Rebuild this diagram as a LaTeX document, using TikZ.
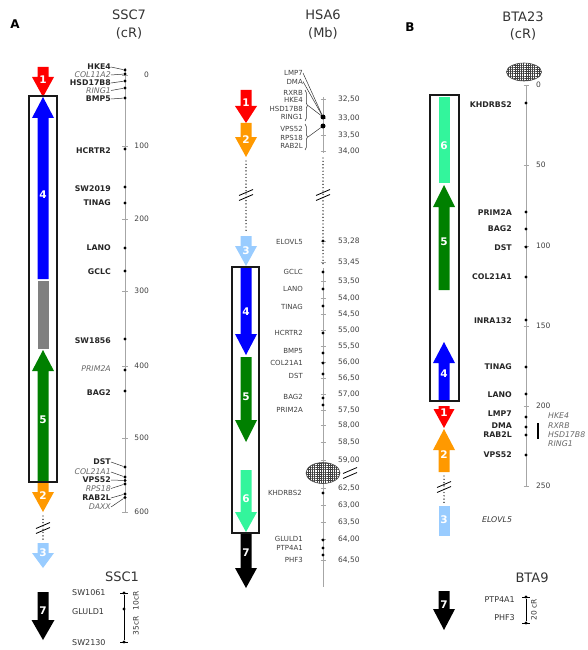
\documentclass[tikz,border=0pt]{standalone}
\usepackage{fontspec}
\setmainfont{DejaVu Sans}
\usetikzlibrary{patterns,patterns.meta,decorations.pathreplacing}
\definecolor{cred}{HTML}{FF0000}
\definecolor{corange}{HTML}{FF9900}
\definecolor{cblue}{HTML}{0000FF}
\definecolor{cgreen}{HTML}{008000}
\definecolor{cmint}{HTML}{33F59C}
\definecolor{clblue}{HTML}{99CCFF}
\definecolor{cgray}{HTML}{808080}
\newcommand\myarrow[6][11]{\fill[#6] ({#2-5.5},#3) -- ({#2+5.5},#3) -- ({#2+5.5},#4) -- ({#2+#1},#4) -- (#2,#5) -- ({#2-#1},#4) -- ({#2-5.5},#4) -- cycle;}
\newcommand\brkmark[2]{\draw[line width=0.8pt] ({#1-7},{#2+0.5}) -- ({#1+7},{#2-5.5}); \draw[line width=0.8pt] ({#1-7},{#2+5.5}) -- ({#1+7},{#2-0.5});}
\newcommand\meshblob[4]{%
  \fill[white] (#1,#2) ellipse [x radius=#3, y radius=#4];
  \fill[pattern={Lines[angle=0,distance=2.2pt,line width=0.45pt]}, pattern color=black!75] (#1,#2) ellipse [x radius=#3, y radius=#4];
  \fill[pattern={Lines[angle=90,distance=2.2pt,line width=0.45pt]}, pattern color=black!75] (#1,#2) ellipse [x radius=#3, y radius=#4];
  \draw[black!70, line width=0.6pt] (#1,#2) ellipse [x radius=#3, y radius=#4];}
\begin{document}
\begin{tikzpicture}[x=1pt,y=-1pt,
  gb/.style={font=\fontsize{7.8}{8}\selectfont\bfseries, text=black!85, anchor=east, inner sep=0pt},
  gi/.style={font=\fontsize{7.8}{8}\selectfont\itshape, text=black!60, anchor=east, inner sep=0pt},
  gm/.style={font=\fontsize{7}{8}\selectfont, text=black!75, anchor=east, inner sep=0pt},
  tk/.style={font=\fontsize{7.5}{8}\selectfont, text=black!75, inner sep=0pt},
  sk/.style={font=\fontsize{8}{8}\selectfont, text=black!80, inner sep=0pt},
  ttl/.style={font=\fontsize{13}{14}\selectfont, text=black!80, inner sep=0pt},
  lett/.style={font=\fontsize{12}{12}\selectfont\bfseries, inner sep=0pt},
  num/.style={font=\fontsize{10.5}{11}\selectfont\bfseries, text=white, inner sep=0pt},
  axisl/.style={draw=black!35, line width=0.6pt},
  gdot/.style={circle, fill=black, inner sep=0pt, minimum size=3.2pt},
  bdot/.style={circle, fill=black, inner sep=0pt, minimum size=5pt},
  conn/.style={draw=black!80, line width=0.5pt},
  dotl/.style={line width=1.4pt, dash pattern=on 0pt off 3.3pt, line cap=round},
  boxl/.style={draw=black!90, line width=1.6pt}
]
\useasboundingbox (0,0) rectangle (588,650);

% ================= Panel A: SSC7 =================
\node[lett] (labA) at (15,24) {A};
\node[ttl] (tSSC7) at (129,15) {SSC7};
\node[ttl] (uSSC7) at (129,33) {(cR)};
\draw[axisl] (125,68) -- (125,512);
\foreach \v/\y in {0/75,100/146,200/219,300/291,400/366,500/438,600/512}{
  \draw[axisl] (122,\y) -- (128,\y);
  \node[tk,anchor=east] at (149,\y) {\v};
}
% genes
\node[gb] (aHKE4) at (111,67) {HKE4};
\node[gi] (aCOL11A2) at (111,75) {COL11A2};
\node[gb] (aHSD) at (111,83) {HSD17B8};
\node[gi] (aRING1) at (111,90.5) {RING1};
\node[gb] (aBMP5) at (111,99) {BMP5};
\node[gdot] (daHKE4) at (125,70) {};
\node[gdot] (daCOL11A2) at (125,74) {};
\node[gdot] (daHSD) at (125,81) {};
\node[gdot] (daRING1) at (125,88) {};
\node[gdot] (daBMP5) at (125,98) {};
\draw[conn] (aHKE4.east) -- (daHKE4);
\draw[conn] (aCOL11A2.east) -- (daCOL11A2);
\draw[conn] (aHSD.east) -- (daHSD);
\draw[conn] (aRING1.east) -- (daRING1);
\draw[conn] (aBMP5.east) -- (daBMP5);

\node[gb] (aHCRTR2) at (111,151) {HCRTR2};  \node[gdot] (daHCRTR2) at (125,149) {};
\node[gb] (aSW2019) at (111,189) {SW2019};  \node[gdot] (daSW2019) at (125,187) {};
\node[gb] (aTINAG) at (111,203) {TINAG};    \node[gdot] (daTINAG) at (125,203) {};
\node[gb] (aLANO) at (111,248) {LANO};      \node[gdot] (daLANO) at (125,248) {};
\node[gb] (aGCLC) at (111,272) {GCLC};      \node[gdot] (daGCLC) at (125,271) {};
\node[gb] (aSW1856) at (111,341) {SW1856};  \node[gdot] (daSW1856) at (125,339) {};
\node[gi] (aPRIM2A) at (111,369) {PRIM2A};  \node[gdot] (daPRIM2A) at (125,370) {};
\node[gb] (aBAG2) at (111,393) {BAG2};      \node[gdot] (daBAG2) at (125,391) {};

\node[gb] (aDST) at (111,462) {DST};
\node[gi] (aCOL21A1) at (111,472) {COL21A1};
\node[gb] (aVPS52) at (111,480) {VPS52};
\node[gi] (aRPS18) at (111,488.5) {RPS18};
\node[gb] (aRAB2L) at (111,498) {RAB2L};
\node[gi] (aDAXX) at (111,507) {DAXX};
\node[gdot] (daDST) at (125,467) {};
\node[gdot] (daCOL21A1) at (125,477) {};
\node[gdot] (daVPS52) at (125,480.5) {};
\node[gdot] (daRPS18) at (125,484) {};
\node[gdot] (daRAB2L) at (125,494) {};
\node[gdot] (daDAXX) at (125,497.5) {};
\draw[conn] (aDST.east) -- (daDST);
\draw[conn] (aCOL21A1.east) -- (daCOL21A1);
\draw[conn] (aVPS52.east) -- (daVPS52);
\draw[conn] (aRPS18.east) -- (daRPS18);
\draw[conn] (aRAB2L.east) -- (daRAB2L);
\draw[conn] (aDAXX.east) -- (daDAXX);

% arrows
\myarrow{43}{67}{77}{97}{cred}
\myarrow{43}{279}{118}{97}{cblue}
\fill[cgray] (37.5,281) rectangle (48.5,349);
\myarrow{43}{481}{371}{350}{cgreen}
\draw[boxl] (29,96) rectangle (57,482);
\myarrow{43}{483}{492}{512}{corange}
\draw[dotl] (43,516) -- (43,541);
\brkmark{43}{528}
\myarrow{43}{543}{553}{568}{clblue}
\myarrow[11.5]{43}{592}{620}{640}{black}
\node[num] (na1) at (43,80) {1};
\node[num] (na4) at (43,195) {4};
\node[num] (na5) at (43,420) {5};
\node[num] (na2) at (43,496) {2};
\node[num] (na3) at (43,553) {3};
\node[num] (na7) at (43,611) {7};

% SSC1
\node[ttl] (tSSC1) at (122,577) {SSC1};
\node[gdot] (s1a) at (124,593) {};
\node[gdot] (s1b) at (124,609) {};
\node[gdot] (s1c) at (124,642) {};
\draw[line width=0.8pt] (s1a) -- (s1c);
\draw[line width=0.8pt] (120,593) -- (128,593) (120,642) -- (128,642);
\node[sk,anchor=west] (sw1061) at (72,593) {SW1061};
\node[sk,anchor=west] (gluld) at (72,612) {GLULD1};
\node[sk,anchor=west] (sw2130) at (72,643) {SW2130};
\node[tk,rotate=90,text=black!80] (c10) at (136,601) {10cR};
\node[tk,rotate=90,text=black!80] (c35) at (136,626) {35cR};

% ================= Middle: HSA6 =================
\node[ttl] (tHSA6) at (323,15) {HSA6};
\node[ttl] (uHSA6) at (323,33) {(Mb)};
\draw[axisl] (323,97) -- (323,153);
\draw[dotl] (323,158) -- (323,266);
\draw[axisl] (323,268) -- (323,587);
\brkmark{323}{195}
\foreach \y in {99,118,135,151,241,262,281,298,314,330,346,362,378,394,410,425,442,460,488,505,522,539,560}{
  \draw[axisl] (320.5,\y) -- (325.5,\y);
}
\node[tk,anchor=west] (m1) at (338,99) {32,50};
\node[tk,anchor=west] (m2) at (338,118) {33,00};
\node[tk,anchor=west] (m3) at (338,135) {33,50};
\node[tk,anchor=west] (m4) at (338,151) {34,00};
\node[tk,anchor=west] (m5) at (338,241) {53,28};
\node[tk,anchor=west] (m6) at (338,262) {53,45};
\node[tk,anchor=west] (m7) at (338,281) {53,50};
\node[tk,anchor=west] (m8) at (338,298) {54,00};
\node[tk,anchor=west] (m9) at (338,314) {54,50};
\node[tk,anchor=west] (m10) at (338,330) {55,00};
\node[tk,anchor=west] (m11) at (338,346) {55,50};
\node[tk,anchor=west] (m12) at (338,362) {56,00};
\node[tk,anchor=west] (m13) at (338,378) {56,50};
\node[tk,anchor=west] (m14) at (338,394) {57,00};
\node[tk,anchor=west] (m15) at (338,410) {57,50};
\node[tk,anchor=west] (m16) at (338,425) {58,00};
\node[tk,anchor=west] (m17) at (338,442) {58,50};
\node[tk,anchor=west] (m18) at (338,460) {59,00};
\node[tk,anchor=west] (m19) at (338,488) {62,50};
\node[tk,anchor=west] (m20) at (338,505) {63,00};
\node[tk,anchor=west] (m21) at (338,522) {63,50};
\node[tk,anchor=west] (m22) at (338,539) {64,00};
\node[tk,anchor=west] (m23) at (338,560) {64,50};

% top gene cluster
\node[gm] (mLMP7) at (303,73) {LMP7};
\node[gm] (mDMA) at (303,81.5) {DMA};
\node[gm] (mRXRB) at (303,93) {RXRB};
\node[gm] (mHKE4) at (303,100) {HKE4};
\node[gm] (mHSD) at (303,108.5) {HSD17B8};
\node[gm] (mRING1) at (303,117) {RING1};
\node[gm] (mVPS52) at (303,128.5) {VPS52};
\node[gm] (mRPS18) at (303,137.5) {RPS18};
\node[gm] (mRAB2L) at (303,146) {RAB2L};
\node[bdot] (dmA) at (323,117) {};
\node[bdot] (dmB) at (323,126) {};
\draw[conn] (mLMP7.east) -- (dmA);
\draw[conn] (mDMA.east) -- (dmA);
\draw[conn,decorate,decoration={brace,amplitude=2.5pt}] (305,90) -- (305,121);
\draw[conn,decorate,decoration={brace,amplitude=2.5pt}] (305,124) -- (305,150);
\coordinate (brA) at (308,105.5);
\coordinate (brB) at (308,137);
\draw[conn] (brA) -- (dmA);
\draw[conn] (brB) -- (dmB);

\node[gm] (mELOVL5) at (303,242) {ELOVL5};   \node[gdot] (dmELOVL5) at (323,241) {};
\node[gm] (mGCLC) at (303,272) {GCLC};       \node[gdot] (dmGCLC) at (323,272) {};
\node[gm] (mLANO) at (303,289) {LANO};       \node[gdot] (dmLANO) at (323,289) {};
\node[gm] (mTINAG) at (303,307) {TINAG};     \node[gdot] (dmTINAG) at (323,306) {};
\node[gm] (mHCRTR2) at (303,333) {HCRTR2};   \node[gdot] (dmHCRTR2) at (323,333) {};
\node[gm] (mBMP5) at (303,351) {BMP5};       \node[gdot] (dmBMP5) at (323,353) {};
\node[gm] (mCOL21A1) at (303,363) {COL21A1}; \node[gdot] (dmCOL21A1) at (323,363) {};
\node[gm] (mDST) at (303,376) {DST};         \node[gdot] (dmDST) at (323,374) {};
\node[gm] (mBAG2) at (303,397) {BAG2};       \node[gdot] (dmBAG2) at (323,398) {};
\node[gm] (mPRIM2A) at (303,410) {PRIM2A};   \node[gdot] (dmPRIM2A) at (323,405) {};
\node[gm] (mKHDRBS2) at (302,493) {KHDRBS2}; \node[gdot] (dmKHDRBS2) at (323,493) {};
\node[gm] (mGLULD1) at (303,539) {GLULD1};   \node[gdot] (dmGLULD1) at (323,540) {};
\node[gm] (mPTP4A1) at (303,548) {PTP4A1};   \node[gdot] (dmPTP4A1) at (323,548) {};
\node[gm] (mPHF3) at (303,560) {PHF3};       \node[gdot] (dmPHF3) at (323,555) {};

\meshblob{323}{473}{17}{10.5}
\brkmark{350}{473}

% middle arrows
\myarrow{246}{90}{106}{123}{cred}
\myarrow{246}{123}{137}{157}{corange}
\draw[dotl] (246,161) -- (246,233);
\brkmark{246}{195}
\myarrow{246}{236}{246}{266}{clblue}
\myarrow{246}{268}{334}{355}{cblue}
\myarrow{246}{357}{420}{442}{cgreen}
\myarrow{246}{470}{512}{532}{cmint}
\myarrow{246}{533}{568}{588}{black}
\draw[boxl] (232,267) rectangle (259,533);
\node[num] (nm1) at (246,103) {1};
\node[num] (nm2) at (246,140) {2};
\node[num] (nm3) at (246,251) {3};
\node[num] (nm4) at (246,312) {4};
\node[num] (nm5) at (246,397) {5};
\node[num] (nm6) at (246,499) {6};
\node[num] (nm7) at (246,553) {7};

% ================= Panel B: BTA23 =================
\node[lett] (labB) at (410,27) {B};
\node[ttl] (tBTA23) at (523,17) {BTA23};
\node[ttl] (uBTA23) at (523,34) {(cR)};
\meshblob{524}{72}{17.5}{9}
\draw[axisl] (526,85) -- (526,487);
\foreach \v/\y in {0/85,50/165,100/246,150/326,200/406,250/486}{
  \draw[axisl] (523.5,\y) -- (528.5,\y);
  \node[tk,anchor=west] at (536,\y) {\v};
}
\node[gb] (bKHDRBS2) at (512,105) {KHDRBS2}; \node[gdot] (dbKHDRBS2) at (526,103) {};
\node[gb] (bPRIM2A) at (512,213) {PRIM2A};   \node[gdot] (dbPRIM2A) at (526,212) {};
\node[gb] (bBAG2) at (512,229) {BAG2};       \node[gdot] (dbBAG2) at (526,229) {};
\node[gb] (bDST) at (512,248) {DST};         \node[gdot] (dbDST) at (526,247) {};
\node[gb] (bCOL21A1) at (512,277) {COL21A1}; \node[gdot] (dbCOL21A1) at (526,277) {};
\node[gb] (bINRA132) at (512,321) {INRA132}; \node[gdot] (dbINRA132) at (526,320) {};
\node[gb] (bTINAG) at (512,367) {TINAG};     \node[gdot] (dbTINAG) at (526,367) {};
\node[gb] (bLANO) at (512,395) {LANO};       \node[gdot] (dbLANO) at (526,394) {};
\node[gb] (bLMP7) at (512,414) {LMP7};       \node[gdot] (dbLMP7) at (526,417) {};
\node[gb] (bDMA) at (512,425.5) {DMA};       \node[gdot] (dbDMA) at (526,427) {};
\node[gb] (bRAB2L) at (512,434.5) {RAB2L};   \node[gdot] (dbRAB2L) at (526,435) {};
\node[gb] (bVPS52) at (512,455) {VPS52};     \node[gdot] (dbVPS52) at (526,455) {};
\node[gi,anchor=west] (bHKE4) at (548,416) {HKE4};
\node[gi,anchor=west] (bRXRB) at (548,425.5) {RXRB};
\node[gi,anchor=west] (bHSD) at (548,435) {HSD17B8};
\node[gi,anchor=west] (bRING1) at (548,444) {RING1};
\draw[line width=2.6pt] (538,423) -- (538,439);
\node[gi,anchor=west,text=black!80] (bELOVL5) at (482,520) {ELOVL5};

% right arrows
\fill[cmint] (438.5,97) rectangle (449.5,183);
\myarrow{444}{290}{207}{185}{cgreen}
\myarrow{444}{400}{363}{342}{cblue}
\draw[boxl] (430,95) rectangle (459,401);
\myarrow[10.5]{444}{406}{409}{428}{cred}
\myarrow{444}{472}{450}{429}{corange}
\draw[dotl] (444,476) -- (444,504);
\brkmark{444}{487}
\fill[clblue] (438.5,506) rectangle (449.5,536);
\myarrow{444}{591}{609}{630}{black}
\node[num] (nb6) at (444,146) {6};
\node[num] (nb5) at (444,242) {5};
\node[num] (nb4) at (444,374) {4};
\node[num] (nb1) at (444,413) {1};
\node[num] (nb2) at (444,455) {2};
\node[num] (nb3) at (444,520) {3};
\node[num] (nb7) at (444,605) {7};

% BTA9
\node[ttl] (tBTA9) at (532,578) {BTA9};
\node[gdot] (b9a) at (526,597) {};
\node[gdot] (b9b) at (526,623) {};
\draw[line width=0.8pt] (b9a) -- (b9b);
\draw[line width=0.8pt] (522,597) -- (530,597) (522,623) -- (530,623);
\node[sk,anchor=east] (bPTP4A1) at (515,600) {PTP4A1};
\node[sk,anchor=east] (bPHF3) at (515,618) {PHF3};
\node[tk,rotate=90,text=black!80] (c20) at (534,610) {20 cR};
\end{tikzpicture}
\end{document}
